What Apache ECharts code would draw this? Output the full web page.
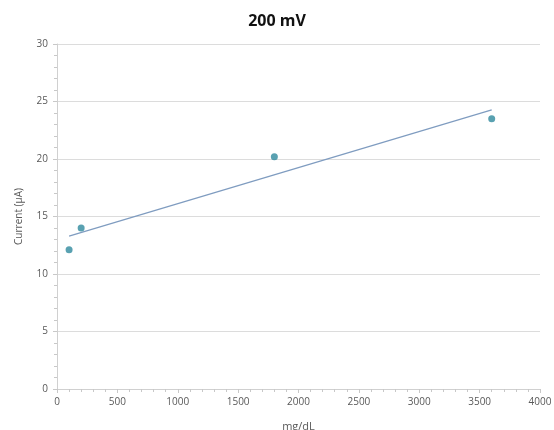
<!DOCTYPE html>
<html><head><meta charset="utf-8">
<script src="https://cdn.jsdelivr.net/npm/echarts@6/dist/echarts.min.js"></script>
<style>html,body{margin:0;padding:0;background:#fff}#c{width:554px;height:430px}</style>
</head><body><div id="c"></div>
<script>
const concentrations = [100, 200, 1800, 3600];
const currents = [12.1, 14.0, 20.2, 23.5];
const titleText = '200 mV';
const xName = 'mg/dL';
const yName = 'Current (µA)';

// linear least-squares trendline from the data
const n = concentrations.length;
const mx = concentrations.reduce((a,b)=>a+b,0)/n;
const my = currents.reduce((a,b)=>a+b,0)/n;
let sxy=0, sxx=0;
for (let i=0;i<n;i++){ sxy += (concentrations[i]-mx)*(currents[i]-my); sxx += (concentrations[i]-mx)**2; }
const slope = sxy/sxx, icpt = my - slope*mx;
const xMin = Math.min(...concentrations), xMax = Math.max(...concentrations);
const trend = [[xMin, icpt+slope*xMin],[xMax, icpt+slope*xMax]];

const font = 'Open Sans, Liberation Sans, sans-serif';
const chart = echarts.init(document.getElementById('c'));
chart.setOption({
  animation:false,
  title:{text:titleText,left:'center',top:8,textStyle:{fontFamily:font,fontSize:16,fontWeight:'bold',color:'#111'}},
  grid:{left:57,right:14,top:44,bottom:41,containLabel:false,outerBoundsMode:'none'},
  xAxis:{type:'value',min:0,max:4000,interval:500,
    name:xName,nameLocation:'middle',nameGap:32,nameTextStyle:{fontFamily:font,fontSize:11,color:'#595959'},
    axisLine:{show:true,lineStyle:{color:'#d0d0d0'}},
    axisTick:{show:true,inside:false,length:4,lineStyle:{color:'#c8c8c8'}},
    minorTick:{show:true,splitNumber:5,length:3,lineStyle:{color:'#c8c8c8'}},
    splitLine:{show:false},
    axisLabel:{fontFamily:font,fontSize:10,color:'#595959',margin:8,formatter:v=>String(v)}},
  yAxis:{type:'value',min:0,max:30,interval:5,
    name:yName,nameLocation:'middle',nameGap:33,nameTextStyle:{fontFamily:font,fontSize:10,color:'#595959'},
    axisLine:{show:true,lineStyle:{color:'#d0d0d0'}},
    axisTick:{show:true,length:4,lineStyle:{color:'#c8c8c8'}},
    minorTick:{show:true,splitNumber:5,length:3,lineStyle:{color:'#c8c8c8'}},
    splitLine:{show:true,lineStyle:{color:'#dcdcdc'}},
    axisLabel:{fontFamily:font,fontSize:10,color:'#595959',margin:9}},
  series:[
    {type:'line',data:trend,symbol:'none',lineStyle:{color:'#7f9cc0',width:1.2},z:2},
    {type:'scatter',data:concentrations.map((x,i)=>[x,currents[i]]),symbolSize:7,itemStyle:{color:'#2f8a9e'},z:3}
  ]
});
</script></body></html>
